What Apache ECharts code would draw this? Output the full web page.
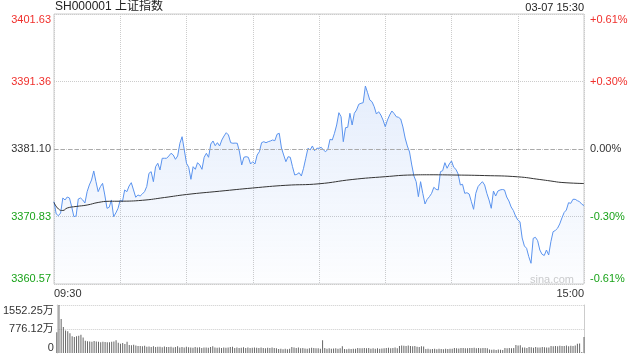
<!DOCTYPE html>
<html><head><meta charset="utf-8">
<script src="https://cdn.jsdelivr.net/npm/echarts@6/dist/echarts.min.js"></script>
<style>html,body{margin:0;padding:0;background:#fff}#c{width:640px;height:360px}</style>
</head><body><div id="c"></div>
<script>
const titleText = 'SH000001 上证指数';
const stampText = '03-07 15:30';
const watermarkText = 'sina.com';
const prevClose = 3381.10;
const priceLabels = ['3360.57','3370.83','3381.10','3391.36','3401.63'];
const pctLabels = ['-0.61%','-0.30%','0.00%','+0.30%','+0.61%'];
const volLabels = ['0','776.12万','1552.25万'];
const timeLabels = ['09:30','15:00'];

// price per minute (index 0 = 09:30 ... 240 = 15:00)
const prices = [
3373.09,3371.22,3370.96,3371.37,3373.65,3373.35,3373.80,3373.65,3372.33,3370.81,
3370.91,3373.50,3373.65,3373.35,3372.89,3374.61,3375.63,3376.39,3377.76,3376.13,
3374.61,3375.37,3375.88,3374.11,3372.08,3372.24,3373.35,3370.81,3371.37,3372.08,
3373.35,3373.09,3374.87,3374.61,3375.47,3375.98,3374.87,3373.76,3374.11,3373.95,
3374.26,3374.61,3375.40,3377.40,3377.65,3376.13,3378.41,3378.93,3377.91,3379.69,
3379.69,3379.69,3380.04,3380.45,3380.19,3379.53,3380.04,3381.97,3382.97,3380.95,
3378.93,3378.32,3376.49,3378.41,3378.01,3379.02,3378.67,3378.01,3379.84,3380.45,
3379.84,3381.86,3382.32,3381.60,3382.06,3381.56,3382.47,3383.08,3383.58,3383.23,
3382.06,3381.97,3382.00,3381.97,3380.64,3378.67,3379.84,3379.93,3379.84,3378.82,
3379.17,3378.82,3380.19,3380.69,3382.06,3382.21,3382.06,3382.21,3382.32,3382.47,
3382.36,3383.34,3383.49,3381.25,3380.19,3379.17,3379.93,3379.84,3378.41,3377.15,
3377.25,3377.50,3376.99,3378.17,3379.69,3381.21,3380.95,3381.56,3380.84,3381.21,
3381.21,3381.36,3380.95,3380.69,3381.05,3382.58,3382.47,3383.49,3384.75,3386.62,
3386.01,3382.21,3384.34,3384.40,3386.53,3384.75,3386.53,3387.03,3387.90,3388.05,
3388.14,3390.68,3389.66,3388.55,3388.29,3387.53,3386.42,3386.77,3386.27,3385.51,
3384.49,3385.51,3386.27,3386.88,3386.50,3386.01,3385.92,3385.66,3384.45,3382.77,
3381.56,3380.64,3378.67,3376.99,3376.13,3373.85,3376.13,3374.36,3372.74,3373.45,
3373.85,3374.36,3375.28,3374.97,3374.87,3377.65,3377.80,3379.02,3378.17,3378.82,
3379.28,3378.32,3378.01,3377.30,3375.63,3375.73,3374.36,3374.45,3374.26,3373.09,
3371.93,3374.36,3375.37,3375.78,3376.13,3375.63,3374.36,3373.35,3372.08,3374.71,
3373.95,3374.71,3374.87,3374.94,3374.87,3373.80,3373.19,3372.28,3371.75,3370.91,
3370.30,3370.04,3367.57,3366.35,3366.00,3364.72,3363.72,3367.52,3367.67,3367.16,
3365.74,3365.09,3364.90,3365.74,3364.98,3367.00,3368.52,3368.71,3369.04,3369.70,
3370.61,3371.44,3371.82,3372.93,3372.84,3373.45,3373.45,3373.24,3373.09,3372.70,
3372.50
];

// average price line, read at selected minutes
const avgMinutes = [0,2,4,6,10,15,20,25,30,40,50,60,75,90,105,120,135,150,162,170,180,195,210,220,225,230,240];
const avgPrices = [3372.97,3371.98,3371.75,3372.13,3372.36,3372.58,3372.97,3373.15,3373.16,3373.30,3373.72,3374.18,3374.68,3375.17,3375.58,3375.81,3376.46,3376.89,3377.15,3377.18,3377.15,3377.06,3376.87,3376.46,3376.23,3376.01,3375.85];

// volume per minute (万)
const volumes = [
668,1552,1098,840,730,700,640,540,520,540,560,590,500,400,
380,375,360,385,370,365,350,360,355,345,350,360,370,
410,330,300,320,290,360,
260,250,270,240,225,230,215,235,
200,210,195,215,190,205,200,185,210,195,
190,200,180,195,220,175,190,180,200,185,
180,170,190,175,185,165,180,175,170,190,
215,180,170,175,165,180,170,175,190,200,
165,175,160,170,185,160,175,165,170,180,
170,160,175,165,155,170,160,180,165,150,
130,140,120,135,125,140,190,180,160,175,
150,160,145,140,150,170,165,155,150,140,
410,160,140,150,135,145,155,140,150,215,
130,125,135,130,140,135,160,150,155,165,
150,160,140,155,135,150,140,145,155,160,
170,150,165,175,155,230,240,235,225,240,
230,215,225,200,190,215,210,130,135,125,
130,140,125,135,130,125,135,130,140,135,
160,150,145,160,165,155,150,165,160,170,
150,160,155,165,160,150,110,105,115,100,
110,105,100,160,150,165,155,160,260,245,
250,175,180,165,190,185,170,195,180,175,
190,185,175,180,230,220,225,215,235,225,
230,240,220,235,226,240,300,310,30,517
];

const volMax = 1552.25;
const span = 20.53;
const step = span / 2;
const RED = '#f0302c', GREEN = '#1aa31a', DARK = '#333';
const FONT = '"Liberation Sans", Arial, "Noto Sans CJK SC", sans-serif';

const priceData = prices.map((p, i) => [i, +(p - prevClose).toFixed(2)]);
const avgData = avgMinutes.map((m, i) => [m, +(avgPrices[i] - prevClose).toFixed(2)]);
const volData = volumes.map((v, i) => [i, v]);

const idxOf = v => Math.round(v / step) + 2;
const colorOf = v => v > 0.001 ? RED : (v < -0.001 ? GREEN : DARK);

const chart = echarts.init(document.getElementById('c'), null, {renderer: 'canvas'});
chart.setOption({
  animation: false,
  textStyle: {fontFamily: FONT},
  grid: [
    {left: 54, right: 56, top: 14, height: 270, show: true, borderColor: '#ccc', borderWidth: 1},
    {left: 54, right: 56, top: 305, height: 48}
  ],
  xAxis: [
    {gridIndex: 0, type: 'value', min: 0, max: 240, interval: 30,
     axisLine: {show: false}, axisTick: {show: false},
     splitLine: {show: true, lineStyle: {type: 'dotted', color: '#ccc'}},
     axisLabel: {show: true, margin: 4, fontSize: 11, color: DARK, fontFamily: FONT,
       showMinLabel: true, showMaxLabel: true, alignMinLabel: 'left', alignMaxLabel: 'right',
       formatter: v => v === 0 ? timeLabels[0] : (v === 240 ? timeLabels[1] : '')}},
    {gridIndex: 1, type: 'value', min: 0, max: 240,
     axisLine: {show: false}, axisTick: {show: false}, axisLabel: {show: false}, splitLine: {show: false}}
  ],
  yAxis: [
    {gridIndex: 0, type: 'value', min: -span, max: span, interval: step, position: 'left',
     axisLine: {show: false}, axisTick: {show: false},
     splitLine: {show: true, lineStyle: {type: 'dotted', color: '#ccc'}},
     axisLabel: {margin: 3, fontSize: 11, fontFamily: FONT,
       verticalAlignMaxLabel: 'top', verticalAlignMinLabel: 'bottom',
       formatter: v => priceLabels[idxOf(v)], color: v => colorOf(v)}},
    {gridIndex: 0, type: 'value', min: -span, max: span, interval: step, position: 'right',
     axisLine: {show: false}, axisTick: {show: false}, splitLine: {show: false},
     axisLabel: {margin: 6, fontSize: 11, fontFamily: FONT,
       verticalAlignMaxLabel: 'top', verticalAlignMinLabel: 'bottom',
       formatter: v => pctLabels[idxOf(v)], color: v => colorOf(v)}},
    {gridIndex: 1, type: 'value', min: 0, max: volMax, interval: volMax / 2, position: 'left',
     axisLine: {show: true, lineStyle: {color: '#ccc'}}, axisTick: {show: false},
     splitLine: {show: true, showMinLine: false, lineStyle: {type: 'dotted', color: '#ccc'}},
     axisLabel: {margin: 3, fontSize: 11, color: DARK, fontFamily: FONT,
       verticalAlignMaxLabel: 'top', verticalAlignMinLabel: 'bottom',
       formatter: v => volLabels[Math.round(v / (volMax / 2))]}},
    {gridIndex: 1, type: 'value', min: 0, max: volMax, position: 'right',
     axisLine: {show: true, lineStyle: {color: '#ccc'}}, axisTick: {show: false},
     axisLabel: {show: false}, splitLine: {show: false}}
  ],
  series: [
    {type: 'line', xAxisIndex: 0, yAxisIndex: 0, data: priceData, symbol: 'none',
     lineStyle: {color: '#5a93ee', width: 1},
     areaStyle: {origin: 'start', color: new echarts.graphic.LinearGradient(0, 0, 0, 1, [
       {offset: 0, color: 'rgba(70,130,235,0.20)'},
       {offset: 1, color: 'rgba(70,130,235,0.02)'}])},
     markLine: {silent: true, symbol: 'none', label: {show: false},
       lineStyle: {type: [4, 3], color: '#aaa', width: 1}, data: [{yAxis: 0}]}},
    {type: 'line', xAxisIndex: 0, yAxisIndex: 0, data: avgData, symbol: 'none', smooth: true,
     lineStyle: {color: '#333', width: 1}},
    {type: 'bar', xAxisIndex: 1, yAxisIndex: 2, data: volData, barWidth: 1,
     itemStyle: {color: '#666'}}
  ],
  graphic: [
    {type: 'text', left: 55, top: 1, style: {text: titleText, font: '12px ' + FONT, fill: '#222'}},
    {type: 'text', right: 56, top: 2, style: {text: stampText, font: '11px ' + FONT, fill: '#222'}},
    {type: 'text', right: 66, top: 274, style: {text: watermarkText, font: '11px ' + FONT, fill: '#ccc'}}
  ]
});
</script>
</body></html>
